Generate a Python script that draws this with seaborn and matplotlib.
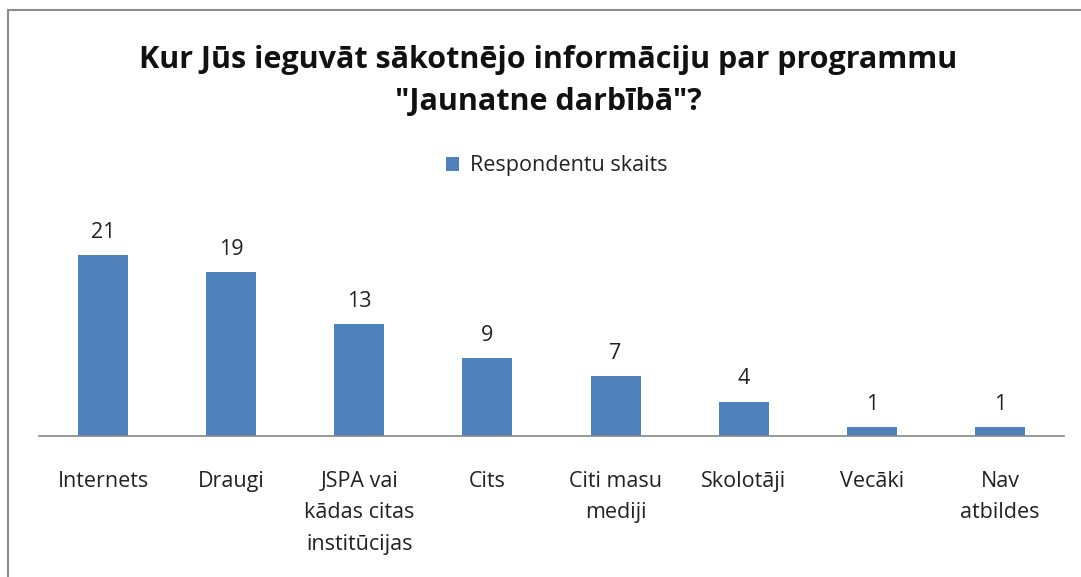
import matplotlib
matplotlib.use("Agg")
import matplotlib.pyplot as plt
import seaborn as sns
import pandas as pd
from matplotlib.patches import Rectangle

categories = ["Internets", "Draugi", "JSPA vai\nkādas citas\ninstitūcijas", "Cits",
              "Citi masu\nmediji", "Skolotāji", "Vecāki", "Nav\natbildes"]
values = [21, 19, 13, 9, 7, 4, 1, 1]
series_name = "Respondentu skaits"
title = 'Kur Jūs ieguvāt sākotnējo informāciju par programmu\n"Jaunatne darbībā"?'

sns.set_style("white")
plt.rcParams["font.family"] = ["Open Sans", "DejaVu Sans"]

W, H = 1081, 577
fig = plt.figure(figsize=(W / 100, H / 100), dpi=100)
fig.patch.set_facecolor("white")

# chart border (runs off the right and bottom edges in the reference)
fig.patches.append(Rectangle((8 / W, -0.1), 1.2, (H - 10) / H + 0.1,
                             transform=fig.transFigure, fill=False,
                             edgecolor="#8c8c8c", linewidth=1.5))

ymax = 24
px_per_unit = 181 / 21
ax = fig.add_axes([39 / W, (H - 436) / H, 1025 / W, ymax * px_per_unit / H])

df = pd.DataFrame({"cat": categories, "val": values})
sns.barplot(data=df, x="cat", y="val", color="#4F81BD", width=0.39,
            saturation=1, ax=ax, label=series_name, linewidth=0)
ax.set_xlim(-0.5, len(categories) - 0.5)
ax.set_ylim(0, ymax)

for i, v in enumerate(values):
    ax.text(i, v + 1.4, str(v), ha="center", va="bottom", fontsize=15.5, color="#222222")

ax.set_xlabel("")
ax.set_ylabel("")
ax.set_yticks([])
ax.tick_params(axis="x", length=0, pad=25, labelsize=15.5, colors="#222222")
for lbl in ax.get_xticklabels():
    lbl.set_linespacing(1.65)
    lbl.set_verticalalignment("top")
for s in ["top", "right", "left"]:
    ax.spines[s].set_visible(False)
ax.spines["bottom"].set_color("#868686")
ax.spines["bottom"].set_linewidth(1.2)

fig.text(548 / W, 1 - 81 / H, title, ha="center", va="center", fontsize=22,
         fontweight="bold", linespacing=1.55, color="#111111")

leg = ax.legend(loc="center", bbox_to_anchor=(557 / W, 1 - 166 / H),
                bbox_transform=fig.transFigure, frameon=False, fontsize=15.5,
                handlelength=0.6, handleheight=0.6, handletextpad=0.5)
for t in leg.get_texts():
    t.set_color("#222222")

fig.savefig("out.png", dpi=100, facecolor="white")
